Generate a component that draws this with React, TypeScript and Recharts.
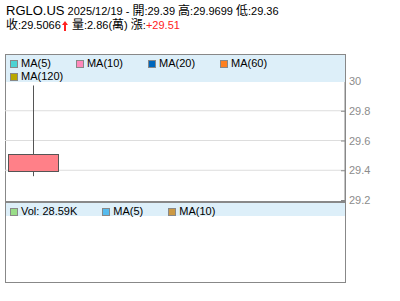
import { ComposedChart, Bar, XAxis, YAxis, CartesianGrid } from "recharts";

const symbol = "RGLO.US";
const dates = ["2025/12/19"];
const opens = [29.39];
const highs = [29.9699];
const lows = [29.36];
const closes = [29.5066];
const volumes = [28590];
const change = 29.51;
const slotCount = 6;
const yTicks = [29.2, 29.4, 29.6, 29.8, 30];
const gridValues = [29.4, 29.6, 29.8];

const priceLegend = [
  { name: "MA(5)", color: "#4cd3d3" },
  { name: "MA(10)", color: "#ff88bb" },
  { name: "MA(20)", color: "#0066bb" },
  { name: "MA(60)", color: "#ff8020" },
  { name: "MA(120)", color: "#b8a800" },
];
const volLegend = [
  { name: `Vol: ${(volumes[0] / 1000).toFixed(2)}K`, color: "#99dd88" },
  { name: "MA(5)", color: "#55bbee" },
  { name: "MA(10)", color: "#cc9944" },
];

const data = Array.from({ length: slotCount }, (_, i) => ({
  slot: dates[i] ?? `empty-${i}`,
  open: opens[i] ?? null,
  high: highs[i] ?? null,
  low: lows[i] ?? null,
  close: closes[i] ?? null,
}));

const FONT = '"Liberation Sans", Arial, "Noto Sans CJK TC", sans-serif';
const GRAY = "#888";

const Candle = (props: any) => {
  const { x, y, width, height, payload } = props;
  if (payload.high == null || !height) return null;
  const ppu = height / (payload.high - payload.low);
  const yOf = (v: number) => y + (payload.high - v) * ppu;
  const top = yOf(Math.max(payload.open, payload.close));
  const bottom = yOf(Math.min(payload.open, payload.close));
  const cx = Math.round(x + width / 2) + 0.5;
  const up = payload.close >= payload.open;
  return (
    <g>
      <line x1={cx} x2={cx} y1={y} y2={y + height} stroke="#555" />
      <rect
        x={Math.round(x) + 0.5}
        y={Math.round(top) + 0.5}
        width={Math.round(width)}
        height={Math.max(1, Math.round(bottom - top))}
        fill={up ? "#ff8088" : "#55cc66"}
        stroke="#555"
      />
    </g>
  );
};

const PriceTick = (props: any) => {
  const { x, y, payload } = props;
  const ax = x - 4;
  return (
    <g>
      <line x1={ax - 4} x2={ax} y1={y + 0.5} y2={y + 0.5} stroke={GRAY} />
      <text x={x} y={y + 4} fill="#8c8c8c" fontSize={11} fontFamily={FONT}>
        {payload.value}
      </text>
    </g>
  );
};

const Cjk = ({ children }: any) => (
  <span style={{ fontSize: 12, display: "inline-block", lineHeight: "12px", height: 12 }}>{children}</span>
);

const UpArrow = () => (
  <svg width={6} height={10} style={{ display: "inline-block", verticalAlign: "-2px", margin: "0 1px" }}>
    <polygon points="0,4 3,0 6,4" fill="#f22" />
    <rect x={2} y={3} width={2} height={7} fill="#f22" />
  </svg>
);

const LegendBand = ({ items, top, height }: any) => (
  <div
    style={{
      position: "absolute",
      left: 6,
      top,
      width: 339,
      height,
      background: "#ddeff9",
      display: "flex",
      flexWrap: "wrap",
      alignContent: "flex-start",
      paddingTop: 2,
      boxSizing: "border-box",
      fontSize: 11,
      lineHeight: "13px",
    }}
  >
    {items.map((it: any) => (
      <div key={it.name} style={{ display: "flex", alignItems: "center", marginLeft: 4, marginRight: 21 }}>
        <span
          style={{
            width: 6,
            height: 6,
            background: it.color,
            border: `1px solid ${GRAY}`,
            marginRight: 3,
          }}
        />
        <span>{it.name}</span>
      </div>
    ))}
  </div>
);

export default function App() {
  const up = closes[0] >= opens[0];
  return (
    <div
      style={{
        position: "absolute",
        left: 0,
        top: 0,
        width: 400,
        height: 301,
        background: "#fff",
        fontFamily: FONT,
        color: "#000",
      }}
    >
      <div style={{ position: "absolute", left: 6, top: 3, whiteSpace: "nowrap", lineHeight: "13px", height: 13 }}>
        <span style={{ fontSize: 13, display: "inline-block", lineHeight: "13px", height: 13 }}>{symbol}</span>
        <span style={{ fontSize: 11, display: "inline-block", lineHeight: "13px", height: 13 }}>
          &nbsp;{dates[0]} - <Cjk>開</Cjk>:{opens[0]} <Cjk>高</Cjk>:{highs[0]} <Cjk>低</Cjk>:{lows[0]}
        </span>
      </div>
      <div
        style={{
          position: "absolute",
          left: 6,
          top: 19,
          whiteSpace: "nowrap",
          fontSize: 11,
          lineHeight: "13px",
          height: 13,
        }}
      >
        <Cjk>收</Cjk>:{closes[0]}
        {up ? <UpArrow /> : null} <Cjk>量</Cjk>:{(volumes[0] / 10000).toFixed(2)}(<Cjk>萬</Cjk>) <Cjk>漲</Cjk>:
        <span style={{ color: "#f22" }}>+{change}</span>
      </div>

      <div
        style={{
          position: "absolute",
          left: 5,
          top: 54,
          width: 339,
          height: 227,
          border: `1px solid ${GRAY}`,
        }}
      />
      <div style={{ position: "absolute", left: 5, top: 201, width: 341, height: 2, background: GRAY }} />

      <ComposedChart
        width={400}
        height={301}
        data={data}
        margin={{ top: 81, right: 0, bottom: 101, left: 5 }}
        style={{ position: "absolute", left: 0, top: 0 }}
      >
        <CartesianGrid horizontal vertical={false} horizontalValues={gridValues} stroke="#dddddd" />
        <XAxis dataKey="slot" hide />
        <YAxis
          yAxisId={0}
          orientation="right"
          width={55}
          domain={[29.2, 30]}
          ticks={yTicks}
          axisLine={{ stroke: GRAY }}
          tickLine={false}
          tickSize={0}
          tickMargin={4}
          tick={<PriceTick />}
          interval={0}
        />
        <Bar
          dataKey={(d: any) => (d.high == null ? null : [d.low, d.high])}
          barSize={50}
          shape={<Candle />}
          isAnimationActive={false}
        />
      </ComposedChart>

      <LegendBand items={priceLegend} top={55} height={27} />
      <LegendBand items={volLegend} top={203} height={13} />
      <div style={{ position: "absolute", left: 345, top: 203, width: 1, height: 79, background: GRAY }} />
    </div>
  );
}
